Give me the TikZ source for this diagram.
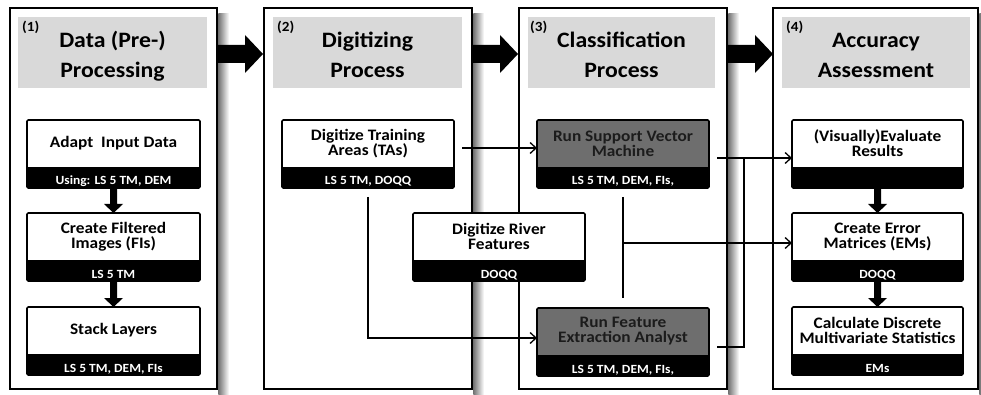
\documentclass[tikz,border=0pt]{standalone}
\usepackage{fontspec}
\setmainfont{Carlito}[FakeStretch=1.08]
\usetikzlibrary{arrows.meta,calc}

\definecolor{headgray}{HTML}{D9D9D9}
\definecolor{runfill}{HTML}{6E6E6E}
\definecolor{runtext}{HTML}{1C1C1C}

\newcommand\HeadFont{\fontsize{22}{30}\selectfont\bfseries}
\newcommand\NumFont{\fontsize{14}{16}\selectfont\bfseries}
\newcommand\TitleFont{\fontsize{16}{15}\selectfont\bfseries}
\newcommand\BandFont{\fontsize{12.5}{14}\selectfont\bfseries}

\tikzset{
  panel/.style={draw=black, line width=2.6pt, fill=white, outer sep=0pt, inner sep=0pt},
  headbox/.style={fill=headgray, inner sep=0pt, outer sep=0pt},
  headtext/.style={font=\HeadFont, inner sep=0pt, anchor=base},
  numtext/.style={font=\NumFont, inner sep=0pt, anchor=base west},
  boxtop/.style={fill=white, minimum height=47pt, inner sep=0pt, outer sep=0pt,
    align=center, font=\TitleFont},
  runbox/.style={fill=runfill, text=runtext},
  band/.style={fill=black, text=white, minimum height=21pt, inner sep=0pt,
    outer sep=0pt, font=\BandFont, text height=15pt, text depth=0pt},
  boxframe/.style={draw=black, line width=1.6pt, rounded corners=1.2pt},
  link/.style={draw=black, line width=1.3pt},
  linkarrow/.style={link, -{Straight Barb[length=6pt,width=11pt,line width=1.3pt]}},
}

% box with a titled upper part and a black data band below it
% #1 name, #2 top-centre point, #3 width, #4 title, #5 band text, #6 extra style
\newcommand\StepBox[6]{%
  \node[boxtop, minimum width=#3, anchor=north, #6] (#1) at (#2) {#4};
  \node[band, minimum width=#3, anchor=north] (#1-b) at (#1.south) {#5};
  \draw[boxframe] (#1.north west) rectangle (#1-b.south east);}

% short thick arrow from the band of one box down to the next box
\newcommand\DownArrow[2]{%
  \fill[black] ($(#1.south)+(-3.5,0)$) -- ($(#2.north)+(-3.5,-9)$)
    -- ($(#2.north)+(-9.5,-9)$) -- (#2.north) -- ($(#2.north)+(9.5,-9)$)
    -- ($(#2.north)+(3.5,-9)$) -- ($(#1.south)+(3.5,0)$) -- cycle;}

% big block arrow leaving a panel to the right
\newcommand\BlockRight[1]{%
  \fill[black] ($(#1.north east)+(0,37)$) -- ++(28,0) -- ++(0,-10) -- ++(18,19)
    -- ++(-18,19) -- ++(0,-10) -- ++(-28,0) -- cycle;}

\begin{document}
\begin{tikzpicture}[x=1pt, y=-1pt]
\useasboundingbox (0,0) rectangle (981,395);
\fill[white] (0,0) rectangle (981,395);

% panel shadows
\foreach \px in {217,472,727,978}
  \shade[left color=black!55, right color=white] (\px+1.3,14) rectangle (\px+12,395);

% panels
\node[panel, minimum width=207pt, minimum height=381pt, anchor=north west] (p1) at (10,8) {};
\node[panel, minimum width=208pt, minimum height=381pt, anchor=north west] (p2) at (264,8) {};
\node[panel, minimum width=208pt, minimum height=381pt, anchor=north west] (p3) at (519,8) {};
\node[panel, minimum width=205pt, minimum height=381pt, anchor=north west] (p4) at (773,8) {};

% headers
\node[headbox, minimum width=189pt, minimum height=71pt, anchor=north west] (hd1) at (18,17) {};
\node[headbox, minimum width=189pt, minimum height=71pt, anchor=north west] (hd2) at (273,17) {};
\node[headbox, minimum width=187pt, minimum height=71pt, anchor=north west] (hd3) at (528,17) {};
\node[headbox, minimum width=188pt, minimum height=71pt, anchor=north west] (hd4) at (782,17) {};

\node[numtext] (n1) at ($(hd1.north west)+(4,14.5)$) {(1)};
\node[numtext] (n2) at ($(hd2.north west)+(4,14.5)$) {(2)};
\node[numtext] (n3) at ($(hd3.north west)+(2,14.5)$) {(3)};
\node[numtext] (n4) at ($(hd4.north west)+(4,14.5)$) {(4)};

\node[headtext] (h1a) at ($(hd1.north)+(0,31)$) {Data (Pre-)};
\node[headtext] (h1b) at ($(hd1.north)+(0,61)$) {Processing};
\node[headtext] (h2a) at ($(hd2.north)+(0,30.5)$) {Digitizing};
\node[headtext] (h2b) at ($(hd2.north)+(0,60.5)$) {Process};
\node[headtext] (h3a) at ($(hd3.north)+(0,30.5)$) {Classification};
\node[headtext] (h3b) at ($(hd3.north)+(0,60.5)$) {Process};
\node[headtext] (h4a) at ($(hd4.north)+(0,30.5)$) {Accuracy};
\node[headtext] (h4b) at ($(hd4.north)+(0,60.5)$) {Assessment};

% block arrows between the stages
\BlockRight{p1}
\BlockRight{p2}
\BlockRight{p3}

% stage 1
\StepBox{adapt}{113.5,120}{173pt}{Adapt~~Input Data}{Using: LS 5 TM, DEM}{}
\StepBox{filt}{113.5,213}{173pt}{Create Filtered\\Images (FIs)}{LS 5 TM}{}
\StepBox{stack}{113.5,307}{173pt}{Stack Layers}{LS 5 TM, DEM, FIs}{}

% stage 2
\StepBox{train}{368,120}{172pt}{Digitize Training\\Areas (TAs)}{LS 5 TM, DOQQ}{}
\StepBox{river}{499,213}{172pt}{Digitize River\\Features}{DOQQ}{}

% stage 3
\StepBox{svm}{623,120}{172pt}{Run Support Vector\\Machine}{LS 5 TM, DEM, FIs,}{runbox}
\StepBox{fea}{623,308}{172pt}{Run Feature\\Extraction Analyst}{LS 5 TM, DEM, FIs,}{runbox}

% stage 4
\StepBox{eval}{877.5,120}{171pt}{(Visually)Evaluate\\Results}{}{}
\StepBox{err}{877.5,213}{171pt}{Create Error\\Matrices (EMs)}{DOQQ}{}
\StepBox{calc}{877.5,307}{171pt}{Calculate Discrete\\Multivariate Statistics}{EMs}{}

% thick arrows inside stages 1 and 4
\DownArrow{adapt-b}{filt}
\DownArrow{filt-b}{stack}
\DownArrow{eval-b}{err}
\DownArrow{err-b}{calc}

% connectors
\coordinate (fork) at ($(svm.east)+(35,14.5)$);
\coordinate (errin) at ($(err.west)+(0,6.5)$);

\draw[linkarrow] ($(train.east)+(8,4.5)$) -- ($(svm.west)+(0,4.5)$);
\draw[linkarrow] ($(train-b.south)+(0,9)$) |- ($(fea.west)+(0,6.5)$);
\draw[linkarrow] ($(svm.east)+(8,14.5)$) -- ($(eval.west)+(0,14.5)$);
\draw[link] ($(fea.east)+(8,15.5)$) -| (fork);
\draw[link] ($(svm-b.south)+(0,9)$) -- ($(fea.north)+(0,-10)$);
\draw[linkarrow] (svm-b.south |- errin) -- (errin);
\end{tikzpicture}
\end{document}
